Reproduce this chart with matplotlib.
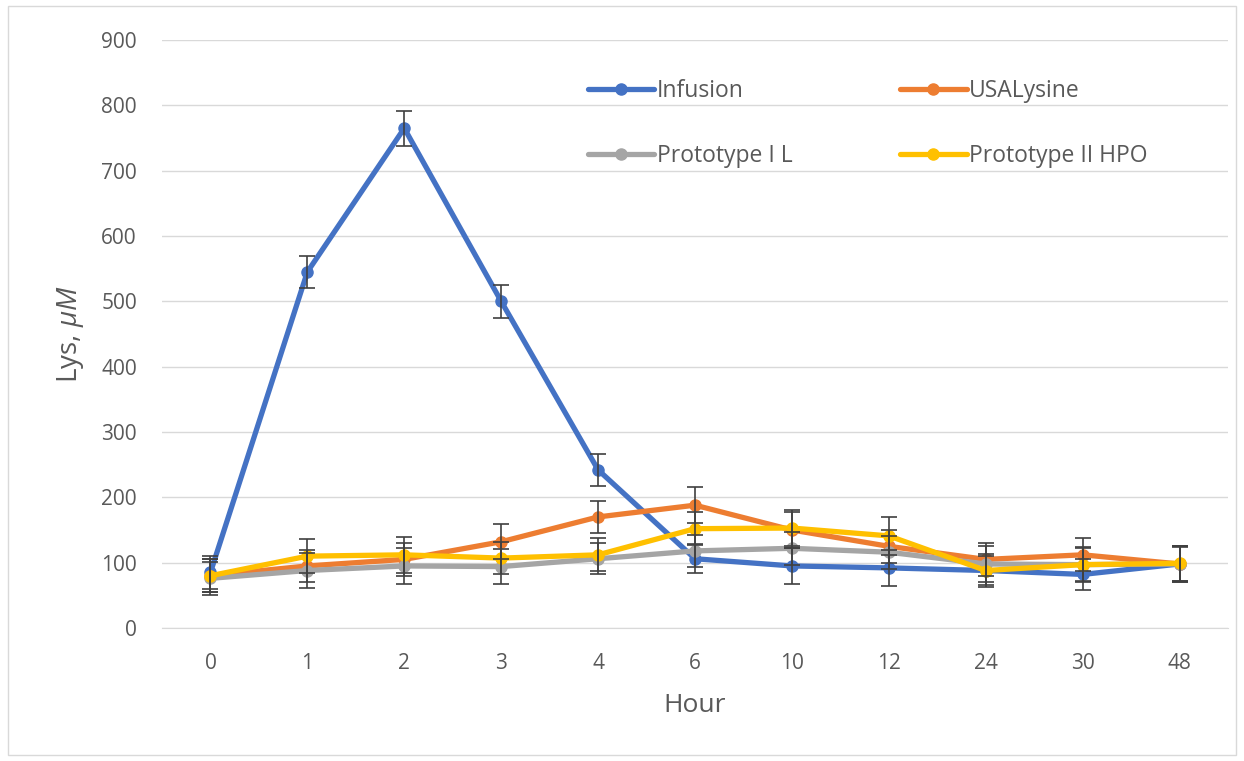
import matplotlib
matplotlib.use("Agg")
import matplotlib.pyplot as plt
from matplotlib.patches import Rectangle

# Hours (categorical axis)
hours = ["0", "1", "2", "3", "4", "6", "10", "12", "24", "30", "48"]

# Lys concentration, uM
infusion = [85, 545, 765, 500, 242, 106, 95, 92, 88, 82, 98]
usalysine = [80, 95, 105, 132, 170, 188, 150, 125, 105, 112, 98]
proto_1 = [76, 88, 95, 94, 106, 118, 122, 116, 98, 97, 98]
proto_2 = [80, 110, 112, 107, 112, 152, 153, 141, 88, 97, 99]

# error bars
infusion_err = [25, 25, 27, 25, 24, 22, 27, 27, 22, 24, 27]
usalysine_err = [25, 25, 25, 27, 25, 28, 28, 25, 25, 25, 26]
proto_1_err = [25, 27, 27, 27, 24, 25, 25, 25, 27, 27, 27]
proto_2_err = [25, 26, 28, 25, 25, 25, 28, 29, 25, 25, 27]

series = [
    ("Infusion", infusion, infusion_err, "#4472C4"),
    ("USALysine", usalysine, usalysine_err, "#ED7D31"),
    ("Prototype I L", proto_1, proto_1_err, "#A5A5A5"),
    ("Prototype II HPO", proto_2, proto_2_err, "#FFC000"),
]

plt.rcParams['font.family'] = ['Open Sans', 'DejaVu Sans']
plt.rcParams['mathtext.fontset'] = 'custom'
plt.rcParams['mathtext.it'] = 'Open Sans:italic'
plt.rcParams['mathtext.rm'] = 'Open Sans'

W, H = 1244, 761
fig = plt.figure(figsize=(W / 100, H / 100), dpi=100)
ax = fig.add_axes([162 / W, 1 - 628 / H, (1228 - 162) / W, (628 - 40) / H])

x = list(range(len(hours)))
handles = {}
for name, vals, err, col in series:
    ax.errorbar(x, vals, yerr=err, fmt="none", ecolor="#404040",
                elinewidth=1.2, capsize=6, capthick=1.2, zorder=3)
    ln, = ax.plot(x, vals, color=col, lw=3.8, marker="o", markersize=8,
                  label=name, zorder=2, solid_capstyle="round")
    handles[name] = ln

ax.set_xlim(-0.5, len(hours) - 0.5)
ax.set_ylim(0, 900)
ax.set_yticks(range(0, 901, 100))
ax.set_xticks(x)
ax.set_xticklabels(hours)
ax.grid(axis="y", color="#d9d9d9", lw=1)
ax.set_axisbelow(True)
for s in ["top", "right", "left"]:
    ax.spines[s].set_visible(False)
ax.spines["bottom"].set_color("#d9d9d9")
ax.tick_params(length=0, labelsize=15, colors="#595959")
ax.tick_params(axis="x", pad=18)
ax.tick_params(axis="y", pad=18)

ax.set_xlabel("Hour", fontsize=19, color="#595959", labelpad=14)
ax.set_ylabel("Lys, $\\mu M$", fontsize=20, color="#595959", labelpad=11)

# row-wise legend order
order = ["Infusion", "Prototype I L", "USALysine", "Prototype II HPO"]
leg = ax.legend([handles[n] for n in order], order, ncol=2, frameon=False,
                loc="upper left", bbox_to_anchor=(588 / W, 1 - 79 / H),
                bbox_transform=fig.transFigure, fontsize=16.5,
                handlelength=2.9, handletextpad=0.1, labelspacing=1.8,
                columnspacing=4.7, borderpad=0, borderaxespad=0)
for t in leg.get_texts():
    t.set_color("#595959")

fig.patches.append(Rectangle((8 / W, 1 - 755 / H), (1236 - 8) / W, (755 - 6) / H,
                             transform=fig.transFigure, fill=False,
                             edgecolor="#d9d9d9", lw=1))

fig.savefig("out.png", dpi=100)
